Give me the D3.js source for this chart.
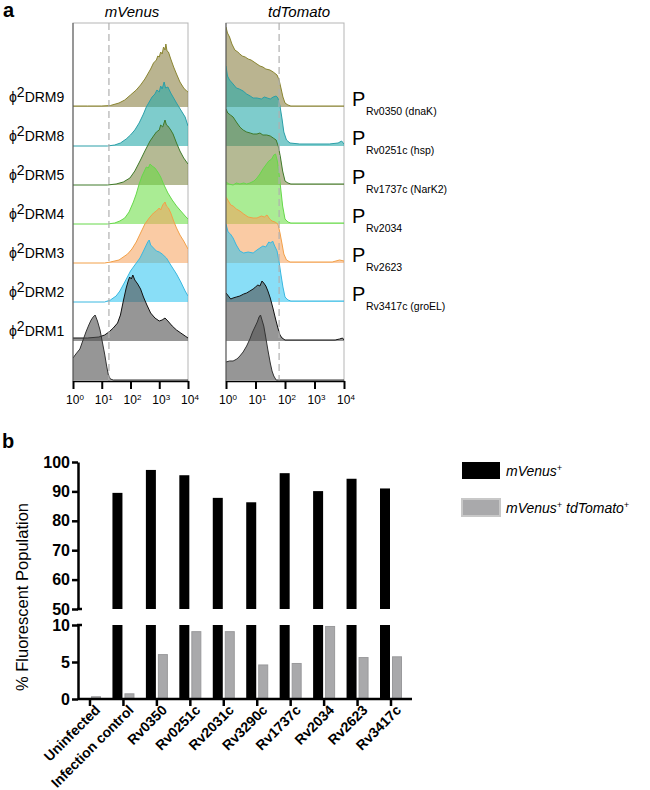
<!DOCTYPE html>
<html><head><meta charset="utf-8">
<script src="https://cdn.jsdelivr.net/npm/d3@7"></script>
<style>body{margin:0;background:#fff} text{font-family:"Liberation Sans",Arial,sans-serif;fill:#000}</style>
</head><body><svg id="c" width="650" height="790"></svg>
<script>
// ---------- Panel a data (x = log10 fluorescence, y = relative count) ----------
const rowNames = ["DRM9","DRM8","DRM5","DRM4","DRM3","DRM2","DRM1",""];
const promoters = [["Rv0350"," (dnaK)"],["Rv0251c"," (hsp)"],["Rv1737c"," (NarK2)"],["Rv2034",""],["Rv2623",""],["Rv3417c"," (groEL)"]];
const rowFill = ["rgba(140,130,70,0.6)","rgba(40,170,170,0.6)","rgba(120,130,60,0.55)","rgba(100,220,60,0.55)","rgba(245,160,90,0.55)","rgba(40,195,240,0.55)","rgba(80,80,80,0.6)","rgba(80,80,80,0.6)"];
const rowStroke = ["#8a8530","#2a9fa8","#3f7a2a","#66d84a","#f2a048","#3ab8e0","#111111","#333333"];
const gateVenus = 1.25, gateTomato = 1.8;
const decades = [0,1,2,3,4];

const venusDRM9 = [[0,1],[0.5,1],[1,1],[1.3,1.5],[1.6,4],[1.8,7],[2.0,12],[2.2,17],[2.35,22],[2.5,28],[2.6,33],[2.7,38],[2.8,44],[2.9,47],[2.95,51],[3.0,50],[3.05,55],[3.1,53],[3.15,60],[3.2,57],[3.23,63],[3.27,56],[3.32,55],[3.4,48],[3.5,40],[3.6,33],[3.72,25],[3.85,19],[3.95,16],[4,15]];
const venusDRM8 = [[0,0],[1.2,0],[1.45,1],[1.65,3],[1.85,7],[2.0,11],[2.15,16],[2.3,23],[2.45,32],[2.55,39],[2.65,44],[2.75,49],[2.85,52],[2.92,56],[3.0,54],[3.05,60],[3.1,57],[3.17,64],[3.22,58],[3.3,59],[3.4,53],[3.5,48],[3.6,43],[3.75,36],[3.9,29],[4,20]];
const venusDRM5 = [[0,0],[1.2,0],[1.5,1],[1.75,3],[1.98,7],[2.15,14],[2.33,24],[2.5,34],[2.68,44],[2.8,49],[2.9,53],[3.0,55],[3.05,60],[3.12,58],[3.2,65],[3.25,60],[3.3,59],[3.4,55],[3.48,51],[3.6,42],[3.72,34],[3.85,27],[4,21]];
const venusDRM4 = [[0,0],[1.2,0],[1.45,1],[1.63,3],[1.8,6],[1.95,12],[2.1,22],[2.2,30],[2.3,40],[2.4,48],[2.5,54],[2.55,57],[2.62,56],[2.68,60],[2.75,58],[2.85,56],[2.95,52],[3.05,47],[3.15,40],[3.3,31],[3.45,24],[3.6,18],[3.75,13],[3.9,8],[4,5]];
const venusDRM3 = [[0,0],[1.1,0],[1.3,1],[1.6,3],[1.9,9],[2.05,14],[2.2,21],[2.35,30],[2.5,39],[2.65,45],[2.8,50],[2.9,52],[3.0,55],[3.05,53],[3.12,58],[3.2,61],[3.25,57],[3.32,55],[3.4,50],[3.5,42],[3.6,35],[3.72,28],[3.85,22],[4,14]];
const venusDRM2 = [[0,0],[1.1,0],[1.3,2],[1.5,6],[1.63,11],[1.8,20],[2.0,31],[2.15,37],[2.33,44],[2.45,51],[2.55,57],[2.6,60],[2.65,62],[2.7,57],[2.8,54],[2.9,51],[3.0,50],[3.1,48],[3.25,44],[3.4,37],[3.6,28],[3.75,20],[3.9,11],[4,6]];
const venusDRM1 = [[0,3],[0.5,3],[0.9,4],[1.1,6],[1.25,9],[1.4,13],[1.55,18],[1.65,26],[1.75,40],[1.85,53],[1.92,60],[1.97,64],[2.03,62],[2.08,66],[2.15,61],[2.25,57],[2.35,52],[2.45,44],[2.57,36],[2.7,28],[2.85,23],[3.0,20],[3.1,21],[3.2,23],[3.3,20],[3.45,15],[3.6,11],[3.75,8],[3.9,5],[4,3]];
const venusUninf = [[0,22],[0.1,26],[0.24,31],[0.35,40],[0.45,48],[0.55,55],[0.63,60],[0.7,63],[0.77,65],[0.85,59],[0.94,50],[1.02,38],[1.1,26],[1.17,14],[1.23,5],[1.3,1],[1.4,0],[4,0]];

const tomatoDRM9 = [[0,80],[0.05,74],[0.12,70],[0.2,63],[0.3,57],[0.4,55],[0.47,53],[0.55,51],[0.65,50],[0.75,48],[0.85,47],[0.95,45],[1.05,43],[1.15,41],[1.25,40],[1.35,38],[1.49,37],[1.6,35],[1.73,32],[1.8,27],[1.87,18],[1.93,10],[2.0,4],[2.1,2],[2.2,1],[4,1]];
const tomatoDRM8 = [[0,80],[0.05,70],[0.12,66],[0.24,62],[0.35,58],[0.45,57],[0.58,55],[0.7,52],[0.82,50],[0.92,48],[1.05,48],[1.2,47],[1.3,49],[1.4,48],[1.5,47],[1.6,49],[1.7,50],[1.76,48],[1.83,40],[1.9,27],[1.96,14],[2.05,6],[2.17,3],[2.5,2],[3.5,2],[3.8,3],[3.92,5],[4,2]];
const tomatoDRM5 = [[0,76],[0.06,72],[0.15,70],[0.24,68],[0.35,63],[0.47,58],[0.58,55],[0.7,53],[0.82,52],[0.92,51],[1.05,51],[1.15,52],[1.25,50],[1.38,50],[1.5,49],[1.6,47],[1.7,45],[1.78,38],[1.85,27],[1.92,14],[2.0,4],[2.1,2],[2.2,1],[4,1]];
const tomatoDRM4 = [[0,42],[0.1,40],[0.24,39],[0.35,41],[0.47,40],[0.6,41],[0.7,40],[0.81,41],[0.95,43],[1.05,46],[1.15,50],[1.25,55],[1.35,59],[1.45,63],[1.55,65],[1.62,69],[1.68,70],[1.74,63],[1.8,50],[1.86,34],[1.92,18],[2.0,5],[2.1,2],[2.2,1],[4,1]];
const tomatoDRM3 = [[0,66],[0.08,62],[0.16,58],[0.24,57],[0.35,54],[0.47,52],[0.6,49],[0.75,46],[0.92,45],[1.05,45],[1.2,47],[1.3,46],[1.39,48],[1.48,44],[1.56,42],[1.66,41],[1.76,39],[1.83,30],[1.9,19],[1.96,9],[2.05,3],[2.17,1],[3.6,1],[3.85,3],[4,2]];
const tomatoDRM2 = [[0,78],[0.07,70],[0.15,68],[0.24,64],[0.35,57],[0.47,51],[0.6,49],[0.75,50],[0.92,49],[1.05,52],[1.15,54],[1.25,56],[1.35,55],[1.45,60],[1.52,59],[1.58,61],[1.65,56],[1.73,51],[1.8,40],[1.86,28],[1.93,15],[2.0,5],[2.1,2],[2.2,1],[4,1]];
const tomatoDRM1 = [[0,48],[0.08,45],[0.16,42],[0.24,43],[0.35,44],[0.47,45],[0.6,47],[0.7,48],[0.81,50],[0.92,52],[1.0,54],[1.08,56],[1.15,55],[1.22,60],[1.28,58],[1.35,55],[1.42,50],[1.5,43],[1.59,33],[1.68,22],[1.76,13],[1.83,6],[1.9,3],[2.0,1],[3.7,1],[3.85,2],[3.95,3],[4,1]];
const tomatoUninf = [[0,18],[0.12,19],[0.24,19],[0.37,21],[0.47,24],[0.58,28],[0.7,34],[0.81,41],[0.9,48],[0.98,53],[1.06,58],[1.12,63],[1.17,65],[1.22,60],[1.28,54],[1.34,44],[1.42,30],[1.5,17],[1.56,9],[1.62,4],[1.7,0],[4,0]];

const venusHists = [venusDRM9,venusDRM8,venusDRM5,venusDRM4,venusDRM3,venusDRM2,venusDRM1,venusUninf];
const tomatoHists = [tomatoDRM9,tomatoDRM8,tomatoDRM5,tomatoDRM4,tomatoDRM3,tomatoDRM2,tomatoDRM1,tomatoUninf];

// ---------- Panel b data ----------
const categories = ["Uninfected","Infection control","Rv0350","Rv0251c","Rv2031c","Rv3290c","Rv1737c","Rv2034","Rv2623","Rv3417c"];
const venusPositive = [0,89.5,97.3,95.5,87.8,86.3,96.2,90.1,94.3,91.0];
const doublePositive = [0.3,0.7,6.0,9.1,9.1,4.6,4.8,9.8,5.6,5.7];
const upperTicks = [50,60,70,80,90,100];
const lowerTicks = [0,5,10];

// ================= drawing =================
const svg = d3.select("#c");
svg.append("text").attr("x",3).attr("y",17).attr("font-size",20).attr("font-weight","bold").text("a");

const frameTop = 23, axisY = 381;
const rowY = d3.scaleLinear().domain([0,7]).range([107,380]);
const hScale = d3.scaleLinear().domain([0,80]).range([0,80]);

function drawPanel(id, x0, x1, hists, gate, title, titleX){
  const xs = d3.scaleLog().domain([1,1e4]).range([x0,x1]);
  const g = svg.append("g");
  g.append("text").attr("x",titleX).attr("y",17).attr("text-anchor","middle")
    .attr("font-size",15).attr("font-style","italic").text(title);
  g.append("clipPath").attr("id",id).append("rect")
    .attr("x",x0).attr("y",frameTop).attr("width",x1-x0).attr("height",axisY-frameTop);
  g.append("rect").attr("x",x0).attr("y",frameTop).attr("width",x1-x0).attr("height",axisY-frameTop)
    .attr("fill","#fff").attr("stroke","#b5b5b5").attr("stroke-width",1);
  const plot = g.append("g").attr("clip-path",`url(#${id})`);
  hists.forEach((h,i)=>{
    const base = rowY(i);
    const area = d3.area().x(d=>xs(Math.pow(10,d[0]))).y0(base).y1(d=>base-hScale(d[1]));
    const line = d3.line().x(d=>xs(Math.pow(10,d[0]))).y(d=>base-hScale(d[1]));
    plot.append("path").attr("d",area(h)).attr("fill",rowFill[i]);
    plot.append("path").attr("d",line(h)).attr("fill","none").attr("stroke",rowStroke[i]).attr("stroke-width",1);
  });
  g.append("line").attr("x1",xs(Math.pow(10,gate))).attr("x2",xs(Math.pow(10,gate)))
    .attr("y1",frameTop).attr("y2",axisY).attr("stroke","#b0b0b0").attr("stroke-width",1.2).attr("stroke-dasharray","7,4");
  g.append("line").attr("x1",x0).attr("x2",x0).attr("y1",frameTop).attr("y2",axisY).attr("stroke","#555").attr("stroke-width",1);
  // axis
  const minors = [];
  for(let d=0; d<4; d++) for(let m=2;m<10;m++) minors.push(m*Math.pow(10,d));
  const ax = g.append("g").attr("transform",`translate(0,${axisY})`);
  ax.call(d3.axisBottom(xs).tickValues(minors).tickSize(5).tickSizeOuter(0).tickFormat(""));
  ax.call(d3.axisBottom(xs).tickValues(decades.map(d=>Math.pow(10,d))).tickSize(8).tickSizeOuter(0).tickFormat(""));
  ax.selectAll("path.domain").attr("stroke","#000").attr("stroke-width",1.5);
  ax.selectAll(".tick line").attr("stroke","#000").attr("stroke-width",2);
  decades.forEach(d=>{
    const t = g.append("text").attr("x",xs(Math.pow(10,d))+2).attr("y",404).attr("text-anchor","middle").attr("font-size",12);
    t.append("tspan").text("10");
    t.append("tspan").attr("dy",-4).attr("font-size",8).text(d);
  });
  return xs;
}
drawPanel("clipV",73,188,venusHists,gateVenus,"mVenus",132);
drawPanel("clipT",226,344,tomatoHists,gateTomato,"tdTomato",299);

rowNames.forEach((n,i)=>{
  if(!n) return;
  const t = svg.append("text").attr("x",9).attr("y",rowY(i)-5).attr("font-size",14);
  t.append("tspan").text("ϕ");
  t.append("tspan").attr("dy",-5).text("2");
  t.append("tspan").attr("dy",5).text(n);
});
promoters.forEach((p,i)=>{
  const base = rowY(i);
  svg.append("text").attr("x",352).attr("y",base-1).attr("font-size",20).text("P");
  svg.append("text").attr("x",366).attr("y",base+8).attr("font-size",10.5).text(p[0]+p[1]);
});

// ---------- Panel b ----------
svg.append("text").attr("x",2).attr("y",448).attr("font-size",20).attr("font-weight","bold").text("b");
const x = d3.scalePoint().domain(categories).range([90,391]);
const yTop = d3.scaleLinear().domain([50,100]).range([609,462]);
const yBot = d3.scaleLinear().domain([0,10]).range([699,625]);
const axisX = 78, barW = 10;

const bars = svg.append("g");
categories.forEach((c,i)=>{
  const v = venusPositive[i], w = doublePositive[i];
  if(v>0){
    const vb = Math.min(v,10);
    bars.append("rect").attr("x",x(c)-barW-1).attr("width",barW).attr("y",yBot(vb)).attr("height",yBot(0)-yBot(vb)).attr("fill","#000");
    if(v>50) bars.append("rect").attr("x",x(c)-barW-1).attr("width",barW).attr("y",yTop(v)).attr("height",yTop(50)-yTop(v)).attr("fill","#000");
  }
  const wb = Math.min(w,10);
  bars.append("rect").attr("x",x(c)+1.5).attr("width",barW-1).attr("y",yBot(wb)).attr("height",yBot(0)-yBot(wb))
    .attr("fill","#a9a9ab").attr("stroke","#9a9a9c").attr("stroke-width",1);
});

function yAxis(scale, ticks){
  const a = svg.append("g").attr("transform",`translate(${axisX},0)`)
    .call(d3.axisLeft(scale).tickValues(ticks).tickSize(6).tickSizeOuter(0).tickPadding(2));
  a.selectAll("path.domain").attr("stroke","#000").attr("stroke-width",2.5);
  a.selectAll(".tick line").attr("stroke","#000").attr("stroke-width",2.5);
  a.selectAll(".tick text").attr("font-size",16).attr("font-weight","bold").attr("fill","#000")
    .attr("font-family","'Liberation Sans',Arial,sans-serif");
  return a;
}
yAxis(yTop, upperTicks);
yAxis(yBot, lowerTicks);
// break caps
svg.append("line").attr("x1",axisX-1).attr("x2",axisX+4).attr("y1",yTop(50)).attr("y2",yTop(50)).attr("stroke","#000").attr("stroke-width",2.5);
svg.append("line").attr("x1",axisX-1).attr("x2",axisX+4).attr("y1",yBot(10)).attr("y2",yBot(10)).attr("stroke","#000").attr("stroke-width",2.5);

// x axis
const xa = svg.append("g").attr("transform",`translate(0,${yBot(0)})`);
xa.append("line").attr("x1",axisX).attr("x2",412).attr("stroke","#000").attr("stroke-width",2.5);
categories.forEach(c=>{
  xa.append("line").attr("x1",x(c)).attr("x2",x(c)).attr("y1",0).attr("y2",7).attr("stroke","#000").attr("stroke-width",2.5);
  xa.append("text").attr("transform",`translate(${x(c)+11},${12}) rotate(-45)`).attr("text-anchor","end")
    .attr("font-size",14).attr("font-weight","bold").text(c);
});
svg.append("text").attr("transform","translate(28,597) rotate(-90)").attr("text-anchor","middle")
  .attr("font-size",16.5).text("% Fluorescent Population");

// legend
const leg = svg.append("g");
leg.append("rect").attr("x",462).attr("y",462).attr("width",38).attr("height",17).attr("fill","#000");
leg.append("rect").attr("x",462).attr("y",499).attr("width",38).attr("height",17).attr("fill","#a9a9ab").attr("stroke","#c8c8c8").attr("stroke-width",2);
const l1 = leg.append("text").attr("x",506).attr("y",476).attr("font-size",14).attr("font-style","italic");
l1.append("tspan").text("mVenus"); l1.append("tspan").attr("dy",-5).attr("font-size",9).text("+");
const l2 = leg.append("text").attr("x",506).attr("y",513).attr("font-size",14).attr("font-style","italic");
l2.append("tspan").text("mVenus"); l2.append("tspan").attr("dy",-5).attr("font-size",9).text("+");
l2.append("tspan").attr("dy",5).text(" tdTomato"); l2.append("tspan").attr("dy",-5).attr("font-size",9).text("+");
</script></body></html>
